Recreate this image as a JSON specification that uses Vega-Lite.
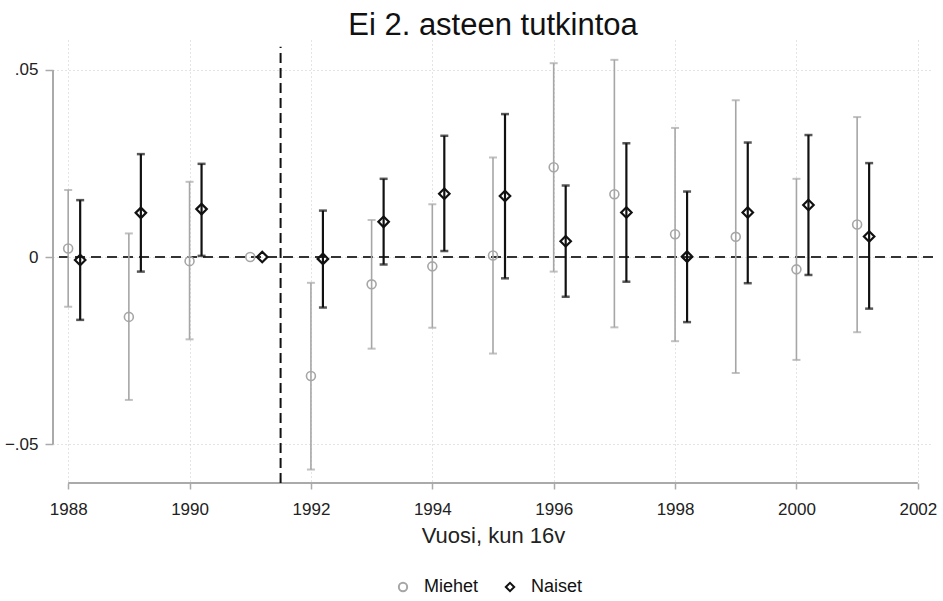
{
  "$schema": "https://vega.github.io/schema/vega-lite/v6.json",
  "width": 880,
  "height": 443,
  "autosize": "none",
  "padding": {"left": 53, "top": 40, "right": 10, "bottom": 118},
  "background": "white",
  "config": {
    "font": "Liberation Sans",
    "view": {"stroke": null},
    "axis": {"domain": false, "gridDash": [1, 3], "gridColor": "#C8C8C8", "gridWidth": 1, "tickColor": "#AAAAAA", "tickWidth": 1.5, "labelColor": "#222222", "titleColor": "#222222", "labelFont": "Liberation Sans", "titleFont": "Liberation Sans", "titleFontWeight": "normal"}
  },
  "title": {"text": "Ei 2. asteen tutkintoa", "fontSize": 31, "fontWeight": "normal", "color": "#111111", "anchor": "middle", "offset": -2, "font": "Liberation Sans"},
  "datasets": {
    "est": [
      {"vuosi": 1988, "ryhma": "Miehet", "b": 0.0023, "lo": -0.0133, "hi": 0.0179},
      {"vuosi": 1988, "ryhma": "Naiset", "b": -0.0008, "lo": -0.0168, "hi": 0.0152},
      {"vuosi": 1989, "ryhma": "Miehet", "b": -0.016, "lo": -0.0382, "hi": 0.0063},
      {"vuosi": 1989, "ryhma": "Naiset", "b": 0.0118, "lo": -0.0039, "hi": 0.0275},
      {"vuosi": 1990, "ryhma": "Miehet", "b": -0.0011, "lo": -0.022, "hi": 0.0201},
      {"vuosi": 1990, "ryhma": "Naiset", "b": 0.0128, "lo": 0.0003, "hi": 0.0249},
      {"vuosi": 1991, "ryhma": "Miehet", "b": 0},
      {"vuosi": 1991, "ryhma": "Naiset", "b": 0},
      {"vuosi": 1992, "ryhma": "Miehet", "b": -0.0318, "lo": -0.0568, "hi": -0.0069},
      {"vuosi": 1992, "ryhma": "Naiset", "b": -0.0005, "lo": -0.0135, "hi": 0.0124},
      {"vuosi": 1993, "ryhma": "Miehet", "b": -0.0073, "lo": -0.0245, "hi": 0.0099},
      {"vuosi": 1993, "ryhma": "Naiset", "b": 0.0094, "lo": -0.002, "hi": 0.0209},
      {"vuosi": 1994, "ryhma": "Miehet", "b": -0.0025, "lo": -0.0189, "hi": 0.0141},
      {"vuosi": 1994, "ryhma": "Naiset", "b": 0.0169, "lo": 0.0016, "hi": 0.0324},
      {"vuosi": 1995, "ryhma": "Miehet", "b": 0.0004, "lo": -0.0258, "hi": 0.0266},
      {"vuosi": 1995, "ryhma": "Naiset", "b": 0.0163, "lo": -0.0057, "hi": 0.0382},
      {"vuosi": 1996, "ryhma": "Miehet", "b": 0.024, "lo": -0.0039, "hi": 0.0518},
      {"vuosi": 1996, "ryhma": "Naiset", "b": 0.0042, "lo": -0.0106, "hi": 0.0191},
      {"vuosi": 1997, "ryhma": "Miehet", "b": 0.0168, "lo": -0.0188, "hi": 0.0527},
      {"vuosi": 1997, "ryhma": "Naiset", "b": 0.0119, "lo": -0.0066, "hi": 0.0304},
      {"vuosi": 1998, "ryhma": "Miehet", "b": 0.0061, "lo": -0.0225, "hi": 0.0345},
      {"vuosi": 1998, "ryhma": "Naiset", "b": 0.0001, "lo": -0.0174, "hi": 0.0175},
      {"vuosi": 1999, "ryhma": "Miehet", "b": 0.0054, "lo": -0.031, "hi": 0.0419},
      {"vuosi": 1999, "ryhma": "Naiset", "b": 0.0119, "lo": -0.007, "hi": 0.0306},
      {"vuosi": 2000, "ryhma": "Miehet", "b": -0.0033, "lo": -0.0275, "hi": 0.0209},
      {"vuosi": 2000, "ryhma": "Naiset", "b": 0.0139, "lo": -0.0048, "hi": 0.0326},
      {"vuosi": 2001, "ryhma": "Miehet", "b": 0.0087, "lo": -0.0201, "hi": 0.0374},
      {"vuosi": 2001, "ryhma": "Naiset", "b": 0.0055, "lo": -0.0138, "hi": 0.0251}
    ],
    "axes": [
      {"name": "xaxis", "x": 1988, "x2": 2002, "y": -0.0604},
      {"name": "yaxis", "x": 1987.75, "y": -0.05, "y2": 0.05}
    ],
    "refs": [
      {"kind": "h", "y": 0},
      {"kind": "v", "x": 1991.5, "y": -0.0604, "y2": 0.0562}
    ]
  },
  "layer": [
    {
      "data": {"name": "axes"},
      "transform": [{"filter": "datum.name == 'xaxis'"}],
      "mark": {"type": "rule", "color": "#AAAAAA", "strokeWidth": 2},
      "encoding": {
        "x": {"field": "x", "type": "quantitative"},
        "x2": {"field": "x2"},
        "y": {"field": "y", "type": "quantitative"}
      }
    },
    {
      "data": {"name": "axes"},
      "transform": [{"filter": "datum.name == 'yaxis'"}],
      "mark": {"type": "rule", "color": "#AAAAAA", "strokeWidth": 2},
      "encoding": {
        "x": {"field": "x", "type": "quantitative"},
        "y": {"field": "y", "type": "quantitative"},
        "y2": {"field": "y2"}
      }
    },
    {
      "data": {"name": "refs"},
      "transform": [{"filter": "datum.kind == 'h'"}],
      "mark": {"type": "rule", "color": "#333333", "strokeWidth": 2, "strokeDash": [10, 6]},
      "encoding": {"y": {"field": "y", "type": "quantitative"}}
    },
    {
      "data": {"name": "refs"},
      "transform": [{"filter": "datum.kind == 'v'"}],
      "mark": {"type": "rule", "color": "#111111", "strokeWidth": 2, "strokeDash": [10, 5]},
      "encoding": {
        "x": {"field": "x", "type": "quantitative"},
        "y": {"field": "y", "type": "quantitative"},
        "y2": {"field": "y2"}
      }
    },
    {
      "data": {"name": "est"},
      "transform": [{"filter": "datum.ryhma == 'Miehet'"}],
      "mark": {"type": "rule", "color": "#A6A6A6", "strokeWidth": 1.6},
      "encoding": {
        "x": {"field": "vuosi", "type": "quantitative"},
        "y": {"field": "lo", "type": "quantitative"},
        "y2": {"field": "hi"}
      }
    },
    {
      "data": {"name": "est"},
      "transform": [{"filter": "datum.ryhma == 'Miehet'"}],
      "mark": {"type": "tick", "orient": "horizontal", "size": 8, "thickness": 2, "color": "#A6A6A6"},
      "encoding": {
        "x": {"field": "vuosi", "type": "quantitative"},
        "y": {"field": "lo", "type": "quantitative"}
      }
    },
    {
      "data": {"name": "est"},
      "transform": [{"filter": "datum.ryhma == 'Miehet'"}],
      "mark": {"type": "tick", "orient": "horizontal", "size": 8, "thickness": 2, "color": "#A6A6A6"},
      "encoding": {
        "x": {"field": "vuosi", "type": "quantitative"},
        "y": {"field": "hi", "type": "quantitative"}
      }
    },
    {
      "data": {"name": "est"},
      "transform": [{"filter": "datum.ryhma == 'Naiset'"}],
      "mark": {"type": "rule", "color": "#111111", "strokeWidth": 2.2, "xOffset": 12},
      "encoding": {
        "x": {"field": "vuosi", "type": "quantitative"},
        "y": {"field": "lo", "type": "quantitative"},
        "y2": {"field": "hi"}
      }
    },
    {
      "data": {"name": "est"},
      "transform": [{"filter": "datum.ryhma == 'Naiset'"}],
      "mark": {"type": "tick", "orient": "horizontal", "size": 8, "thickness": 2.5, "color": "#111111", "xOffset": 12},
      "encoding": {
        "x": {"field": "vuosi", "type": "quantitative"},
        "y": {"field": "lo", "type": "quantitative"}
      }
    },
    {
      "data": {"name": "est"},
      "transform": [{"filter": "datum.ryhma == 'Naiset'"}],
      "mark": {"type": "tick", "orient": "horizontal", "size": 8, "thickness": 2.5, "color": "#111111", "xOffset": 12},
      "encoding": {
        "x": {"field": "vuosi", "type": "quantitative"},
        "y": {"field": "hi", "type": "quantitative"}
      }
    },
    {
      "data": {"name": "est"},
      "transform": [{"filter": "datum.ryhma == 'Miehet'"}],
      "mark": {"type": "point", "filled": false, "opacity": 1, "size": 80, "strokeWidth": 1.6},
      "encoding": {
        "x": {"field": "vuosi", "type": "quantitative"},
        "y": {"field": "b", "type": "quantitative"},
        "color": {"field": "ryhma", "type": "nominal", "scale": {"domain": ["Miehet", "Naiset"], "range": ["#A6A6A6", "#111111"]}, "title": null},
        "shape": {"field": "ryhma", "type": "nominal", "scale": {"domain": ["Miehet", "Naiset"], "range": ["circle", "diamond"]}, "title": null}
      }
    },
    {
      "data": {"name": "est"},
      "transform": [{"filter": "datum.ryhma == 'Naiset'"}],
      "mark": {"type": "point", "filled": false, "opacity": 1, "size": 110, "strokeWidth": 2.2, "xOffset": 12},
      "encoding": {
        "x": {"field": "vuosi", "type": "quantitative", "title": "Vuosi, kun 16v",
          "scale": {"domain": [1987.75, 2002.25], "nice": false, "zero": false},
          "axis": {"values": [1988, 1990, 1992, 1994, 1996, 1998, 2000, 2002], "format": "d", "labelFontSize": 17, "titleFontSize": 22, "tickSize": 6, "labelPadding": 12, "titlePadding": 8, "grid": true}},
        "y": {"field": "b", "type": "quantitative", "title": null,
          "scale": {"domain": [-0.0604, 0.058], "nice": false, "zero": false},
          "axis": {"values": [-0.05, 0, 0.05], "labelExpr": "datum.value == 0 ? '0' : replace(format(datum.value, '.2f'), '0.', '.')", "labelFontSize": 17, "tickSize": 8, "labelPadding": 7, "grid": true}},
        "color": {"field": "ryhma", "type": "nominal", "title": null,
          "legend": {"orient": "none", "legendX": 341, "legendY": 538, "direction": "horizontal", "labelFontSize": 18, "labelColor": "#111111", "labelOffset": 12, "columnPadding": 22, "symbolStrokeWidth": 2, "symbolSize": 70}},
        "shape": {"field": "ryhma", "type": "nominal", "title": null}
      }
    }
  ]
}
